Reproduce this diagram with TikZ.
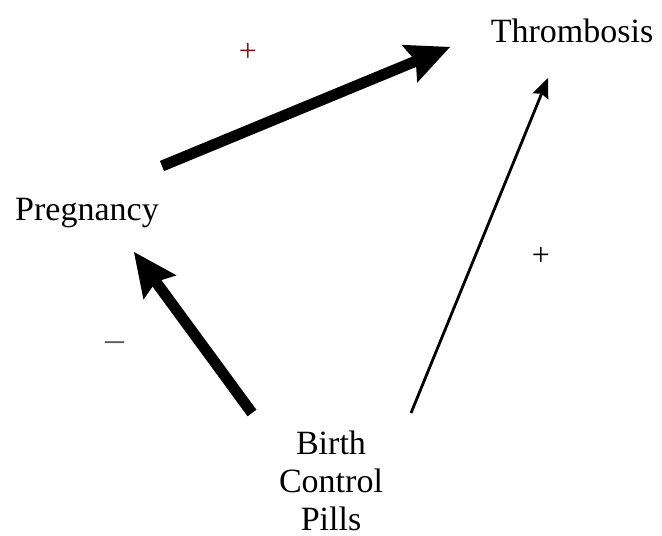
\documentclass[tikz,border=0pt]{standalone}
\usepackage{fontspec}
\setmainfont{Liberation Serif}
\usetikzlibrary{arrows.meta}
\definecolor{plusred}{RGB}{120,25,25}
\definecolor{minusgray}{RGB}{90,90,90}
\tikzset{
  lbl/.style={font=\fontsize{34}{38}\selectfont, inner sep=0pt, align=center},
  sign/.style={font=\fontsize{32}{36}\selectfont, inner sep=0pt},
  bigarrow/.style={line width=11pt, line cap=butt,
    -{Stealth[length=44pt, width=41pt, inset=7pt, line width=0pt]}},
  thinarrow/.style={line width=2.8pt, line cap=butt,
    -{Stealth[length=20pt, width=17pt, inset=3pt, line width=0pt]}}
}
\begin{document}
\begin{tikzpicture}[x=1pt,y=-1pt]
\useasboundingbox (0,0) rectangle (662,536);
\node[lbl, anchor=base] (thr) at (572,42) {Thrombosis};
\node[lbl, anchor=base] (preg) at (87,220) {Pregnancy};
\node[lbl, anchor=north] (bcp) at (331,431) {Birth\\Control\\Pills};
\coordinate (a1s) at (162,166);
\coordinate (a1e) at (450,47);
\coordinate (a2s) at (252,413);
\coordinate (a2e) at (134,252);
\coordinate (a3s) at (411,413);
\coordinate (a3e) at (548,78);
\draw[bigarrow] (a1s) -- (a1e);
\draw[bigarrow] (a2s) -- (a2e);
\draw[thinarrow] (a3s) -- (a3e);
\node[sign, text=plusred] (p1) at (248,52) {+};
\node[sign] (p2) at (541,256) {+};
\node[sign, text=minusgray, font=\fontsize{38}{40}\selectfont] (m1) at (115,347) {–};
\end{tikzpicture}
\end{document}
